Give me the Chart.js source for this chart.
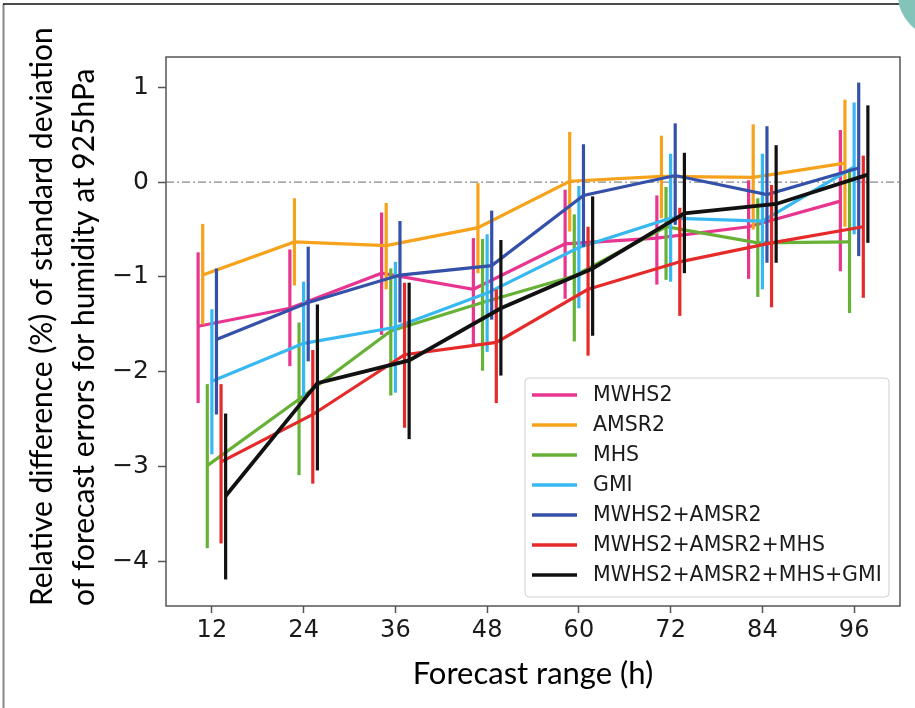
<!DOCTYPE html>
<html>
<head>
<meta charset="utf-8">
<script src="https://cdn.jsdelivr.net/npm/chart.js@4.4.1/dist/chart.umd.min.js"></script>
<style>
  html, body { margin: 0; padding: 0; background: #fff; }
</style>
</head>
<body>
<canvas id="chart" width="915" height="708"></canvas>
<script>
// forecast ranges (h) and tick labels
const hours = [12, 24, 36, 48, 60, 72, 84, 96];
const xTicks = [12, 24, 36, 48, 60, 72, 84, 96];
const yTicks = [-4, -3, -2, -1, 0, 1];

const seriesNames = ['MWHS2', 'AMSR2', 'MHS', 'GMI', 'MWHS2+AMSR2', 'MWHS2+AMSR2+MHS', 'MWHS2+AMSR2+MHS+GMI'];
const seriesColors = ['#e8358f', '#f7a21b', '#67b236', '#38b8f0', '#3550a8', '#e62a2a', '#111111'];
// small horizontal shift (h) so the error bars don't overlap
const seriesShift = [-1.8, -1.2, -0.6, 0, 0.6, 1.2, 1.8];

// mean relative difference (%) and error bar ends
const mwhs2Mean = [-1.52, -1.33, -0.96, -1.13, -0.65, -0.59, -0.47, -0.20];
const mwhs2Low  = [-2.33, -1.94, -1.61, -1.71, -1.23, -1.08, -1.02, -0.94];
const mwhs2High = [-0.74, -0.71, -0.32, -0.59, -0.08, -0.14, 0.02, 0.55];

const amsr2Mean = [-0.98, -0.63, -0.67, -0.48, 0.01, 0.06, 0.05, 0.20];
const amsr2Low  = [-1.50, -1.09, -1.13, -0.96, -0.52, -0.38, -0.50, -0.47];
const amsr2High = [-0.44, -0.17, -0.22, -0.01, 0.53, 0.49, 0.61, 0.87];

const mhsMean = [-2.99, -2.29, -1.57, -1.27, -0.99, -0.47, -0.64, -0.63];
const mhsLow  = [-3.86, -3.09, -2.25, -1.99, -1.68, -1.03, -1.21, -1.38];
const mhsHigh = [-2.13, -1.48, -0.91, -0.60, -0.34, -0.05, -0.17, 0.12];

const gmiMean = [-2.10, -1.70, -1.53, -1.17, -0.69, -0.38, -0.41, 0.16];
const gmiLow  = [-2.87, -2.26, -2.22, -1.79, -1.33, -1.05, -1.13, -0.55];
const gmiHigh = [-1.34, -1.05, -0.84, -0.55, -0.04, 0.30, 0.30, 0.84];

const mwAmMean = [-1.66, -1.27, -0.98, -0.88, -0.14, 0.07, -0.13, 0.15];
const mwAmLow  = [-2.45, -1.89, -1.48, -1.45, -0.68, -0.45, -0.85, -0.78];
const mwAmHigh = [-0.91, -0.68, -0.41, -0.30, 0.40, 0.62, 0.59, 1.05];

const mwAmMhsMean = [-2.95, -2.45, -1.82, -1.69, -1.13, -0.84, -0.64, -0.47];
const mwAmMhsLow  = [-3.81, -3.18, -2.59, -2.33, -1.83, -1.41, -1.32, -1.22];
const mwAmMhsHigh = [-2.13, -1.77, -1.06, -1.13, -0.47, -0.27, -0.03, 0.28];

const allMean = [-3.31, -2.12, -1.88, -1.33, -0.91, -0.33, -0.23, 0.08];
const allLow  = [-4.19, -3.04, -2.71, -2.04, -1.62, -0.96, -0.85, -0.64];
const allHigh = [-2.44, -1.29, -1.06, -0.61, -0.15, 0.31, 0.39, 0.81];

const means = [mwhs2Mean, amsr2Mean, mhsMean, gmiMean, mwAmMean, mwAmMhsMean, allMean];
const lows = [mwhs2Low, amsr2Low, mhsLow, gmiLow, mwAmLow, mwAmMhsLow, allLow];
const highs = [mwhs2High, amsr2High, mhsHigh, gmiHigh, mwAmHigh, mwAmMhsHigh, allHigh];

const datasets = seriesNames.map((name, i) => ({
  label: name,
  data: hours.map((h, j) => ({ x: h + seriesShift[i], y: means[i][j], lo: lows[i][j], hi: highs[i][j] })),
  borderColor: seriesColors[i],
  backgroundColor: seriesColors[i],
  borderWidth: i === 6 ? 3.8 : 3.2,
  pointRadius: 0,
  tension: 0,
  order: 6 - i
}));

const minus = v => (v < 0 ? '\u2212' + Math.abs(v) : String(v));

// vertical error bars, drawn right after each line so the stacking matches
const errorBars = {
  id: 'errorBars',
  afterDatasetDraw(chart, args) {
    const ds = chart.data.datasets[args.index];
    const xs = chart.scales.x, ys = chart.scales.y;
    const ctx = chart.ctx;
    ctx.save();
    ctx.strokeStyle = ds.borderColor;
    ctx.lineWidth = 3.2;
    ds.data.forEach(p => {
      const px = xs.getPixelForValue(p.x);
      ctx.beginPath();
      ctx.moveTo(px, ys.getPixelForValue(p.lo));
      ctx.lineTo(px, ys.getPixelForValue(p.hi));
      ctx.stroke();
    });
    ctx.restore();
  }
};

// dash-dot line at zero
const zeroLine = {
  id: 'zeroLine',
  beforeDatasetsDraw(chart) {
    const { ctx, chartArea } = chart;
    const y0 = chart.scales.y.getPixelForValue(0);
    ctx.save();
    ctx.strokeStyle = '#888';
    ctx.lineWidth = 1.3;
    ctx.setLineDash([8, 3, 2, 3]);
    ctx.beginPath();
    ctx.moveTo(chartArea.left, y0);
    ctx.lineTo(chartArea.right, y0);
    ctx.stroke();
    ctx.restore();
  }
};

// plot frame, legend box and the page border bits
const decorations = {
  id: 'decorations',
  afterDraw(chart) {
    const { ctx, chartArea } = chart;
    ctx.save();

    ctx.strokeStyle = '#555';
    ctx.lineWidth = 1.5;
    ctx.strokeRect(chartArea.left, chartArea.top, chartArea.right - chartArea.left, chartArea.bottom - chartArea.top);

    // legend
    const w = 364, h = 219;
    const left = chartArea.right - 11 - w;
    const top = chartArea.bottom - 9 - h;
    ctx.fillStyle = 'rgba(255,255,255,0.85)';
    ctx.strokeStyle = '#d0d0d0';
    ctx.lineWidth = 1;
    ctx.beginPath();
    ctx.roundRect(left, top, w, h, 4);
    ctx.fill();
    ctx.stroke();
    ctx.font = '20.5px "DejaVu Sans"';
    ctx.textBaseline = 'middle';
    chart.data.datasets.forEach((ds, i) => {
      const y = top + 17 + i * 30;
      ctx.strokeStyle = ds.borderColor;
      ctx.lineWidth = 3.5;
      ctx.beginPath();
      ctx.moveTo(left + 7, y);
      ctx.lineTo(left + 52, y);
      ctx.stroke();
      ctx.fillStyle = '#1a1a1a';
      ctx.fillText(ds.label, left + 68, y + 1);
    });

    // outer figure border and corner badge
    ctx.strokeStyle = '#888';
    ctx.lineWidth = 2;
    ctx.beginPath();
    ctx.moveTo(3.5, 4);
    ctx.lineTo(3.5, 708);
    ctx.stroke();
    ctx.strokeStyle = '#111';
    ctx.lineWidth = 1.5;
    ctx.beginPath();
    ctx.moveTo(3, 4);
    ctx.lineTo(915, 4);
    ctx.stroke();
    ctx.fillStyle = '#82c4ba';
    ctx.beginPath();
    ctx.arc(940, -5, 42, 0, Math.PI * 2);
    ctx.fill();
    ctx.restore();
  }
};

new Chart(document.getElementById('chart'), {
  type: 'line',
  data: { datasets },
  plugins: [errorBars, zeroLine, decorations],
  options: {
    responsive: false,
    animation: false,
    layout: { padding: { left: 0, top: 57, right: 15, bottom: 0 } },
    plugins: {
      legend: { display: false },
      tooltip: { enabled: false }
    },
    scales: {
      x: {
        type: 'linear',
        min: 6,
        max: 102,
        afterBuildTicks: s => { s.ticks = xTicks.map(v => ({ value: v })); },
        afterFit: s => { s.height = 102; },
        border: { display: false },
        grid: { drawOnChartArea: false, tickLength: 7, tickColor: '#555', tickWidth: 1.5 },
        ticks: { color: '#1a1a1a', padding: 3, font: { family: 'DejaVu Sans', size: 24 } },
        title: {
          display: true,
          text: 'Forecast range (h)',
          color: '#000',
          font: { family: 'Lato', size: 31 },
          padding: { top: 0, bottom: 15 }
        }
      },
      y: {
        min: -4.47,
        max: 1.32,
        afterBuildTicks: s => { s.ticks = yTicks.map(v => ({ value: v })); },
        afterFit: s => { s.width = 166; },
        border: { display: false },
        grid: { drawOnChartArea: false, tickLength: 8, tickColor: '#555', tickWidth: 1.5 },
        ticks: { color: '#1a1a1a', padding: 9, callback: minus, font: { family: 'DejaVu Sans', size: 25 } },
        title: {
          display: true,
          text: ['Relative difference (%) of standard deviation', 'of forecast errors for humidity at 925hPa'],
          align: 'start',
          color: '#000',
          font: { family: 'Lato', size: 30, lineHeight: 1.4 },
          padding: { top: 21, bottom: 0 }
        }
      }
    }
  }
});
</script>
</body>
</html>
